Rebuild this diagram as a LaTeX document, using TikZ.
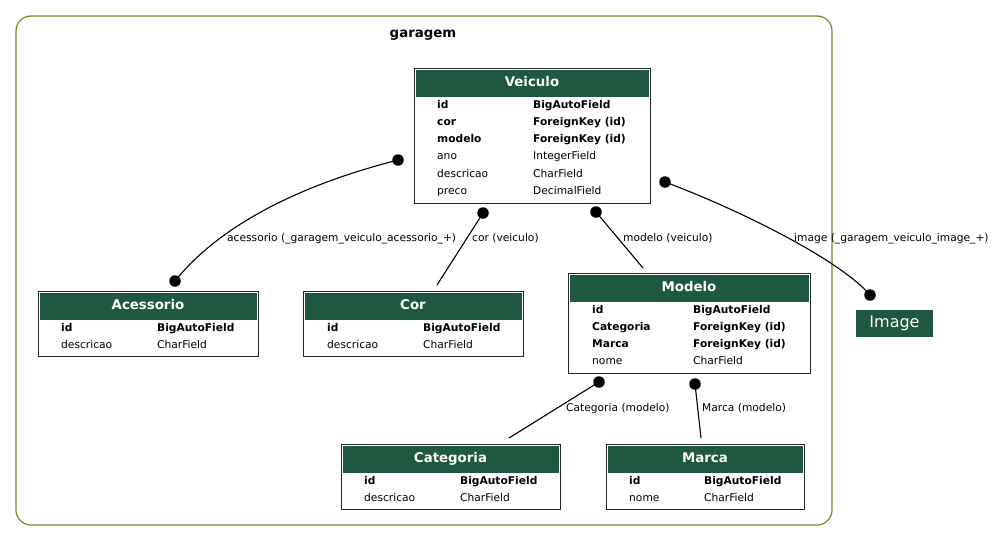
\documentclass[tikz,border=0pt]{standalone}
\usepackage{fontspec}
\setmainfont{DejaVu Sans}
\definecolor{hdr}{HTML}{1E5840}
\definecolor{clus}{HTML}{6B8E23}
\tikzset{
 tblbox/.style={draw=black!85, line width=0.9pt, inner sep=0pt, outer sep=0pt},
 ttl/.style={font=\fontsize{13.33}{15}\selectfont\bfseries, text=white, anchor=base, inner sep=0pt},
 cell/.style={font=\fontsize{10.67}{12}\selectfont, anchor=base west, inner sep=0pt},
 elabel/.style={font=\fontsize{10.67}{12}\selectfont, anchor=base west, inner sep=0pt},
 dot/.style={circle, fill=black, minimum size=11.5pt, inner sep=0pt},
 edge/.style={draw=black, line width=1.1pt},
 cluster/.style={draw=clus, line width=1.2pt, rounded corners=15pt},
 imgnode/.style={fill=hdr, text=white, font=\fontsize{16}{18}\selectfont, minimum width=77pt, minimum height=27pt, inner sep=0pt},
 clabel/.style={font=\fontsize{13.33}{15}\selectfont\bfseries, anchor=base, inner sep=0pt},
}
\newcommand\dbtab[6]{%
 \node[tblbox, minimum width=#4pt, minimum height=#5pt, anchor=north west] (#1) at (#2,#3) {};
 \fill[hdr] ([xshift=2pt,yshift=-2pt]#1.north west) rectangle ([xshift=-1.5pt,yshift=-29pt]#1.north east);
 \node[ttl] (#1-title) at ([yshift=-18pt]#1.north) {#6};
}
\newcommand\dbrows[5]{%
 \foreach \a/\b/\ft [count=\i] in {#5} {
   \node[cell] (#1-l\i) at (#2, {#4+17.25*(\i-1)}) {\ft\a};
   \node[cell] (#1-r\i) at (#3, {#4+17.25*(\i-1)}) {\ft\b};
 }
}
\begin{document}
\begin{tikzpicture}[x=1pt,y=-1pt]
\useasboundingbox (0,0) rectangle (996,541);
% cluster
\draw[cluster] (16,16) rectangle (832,525);
\node[clabel] (garagem) at (423,37) {garagem};

% tables
\dbtab{veiculo}{414}{68}{236}{135}{Veiculo}
\dbrows{veiculo}{437}{533}{108}{id/BigAutoField/\bfseries, cor/ForeignKey (id)/\bfseries, modelo/ForeignKey (id)/\bfseries, ano/IntegerField/\mdseries, descricao/CharField/\mdseries, preco/DecimalField/\mdseries}

\dbtab{acessorio}{38}{291}{220}{65}{Acessorio}
\dbrows{acessorio}{61}{157}{331}{id/BigAutoField/\bfseries, descricao/CharField/\mdseries}

\dbtab{cor}{303}{291}{220}{65}{Cor}
\dbrows{cor}{327}{423}{331}{id/BigAutoField/\bfseries, descricao/CharField/\mdseries}

\dbtab{modelo}{568}{273}{242}{100}{Modelo}
\dbrows{modelo}{592}{693}{313}{id/BigAutoField/\bfseries, Categoria/ForeignKey (id)/\bfseries, Marca/ForeignKey (id)/\bfseries, nome/CharField/\mdseries}

\dbtab{categoria}{341}{444}{219}{65}{Categoria}
\dbrows{categoria}{364}{460}{484}{id/BigAutoField/\bfseries, descricao/CharField/\mdseries}

\dbtab{marca}{606}{444}{198}{65}{Marca}
\dbrows{marca}{629}{704}{484}{id/BigAutoField/\bfseries, nome/CharField/\mdseries}

\node[imgnode] (image) at (894.5,323.5) {Image};

% connectors
\node[dot] (dAcV) at (398,160) {};
\node[dot] (dAcA) at (175,281) {};
\draw[edge] (dAcV.center) .. controls (300,185) and (220,225) .. (dAcA.center);

\node[dot] (dCor) at (483,213) {};
\coordinate (eCor) at (437,285);
\draw[edge] (dCor.center) -- (eCor);

\node[dot] (dMod) at (596,212) {};
\coordinate (eMod) at (643,268);
\draw[edge] (dMod.center) -- (eMod);

\node[dot] (dImV) at (665,182) {};
\node[dot] (dImI) at (870,295) {};
\draw[edge] (dImV.center) .. controls (740,210) and (840,260) .. (dImI.center);

\node[dot] (dCat) at (599,382) {};
\coordinate (eCat) at (509,438);
\draw[edge] (dCat.center) -- (eCat);

\node[dot] (dMar) at (695,384) {};
\coordinate (eMar) at (701,438);
\draw[edge] (dMar.center) -- (eMar);

% edge labels
\node[elabel] (lAc) at (227,241) {acessorio (\_garagem\_veiculo\_acessorio\_+)};
\node[elabel] (lCor) at (472,241) {cor (veiculo)};
\node[elabel] (lMod) at (623,241) {modelo (veiculo)};
\node[elabel] (lImg) at (794,241) {image (\_garagem\_veiculo\_image\_+)};
\node[elabel] (lCat) at (566,411) {Categoria (modelo)};
\node[elabel] (lMar) at (702,411) {Marca (modelo)};
\end{tikzpicture}
\end{document}
